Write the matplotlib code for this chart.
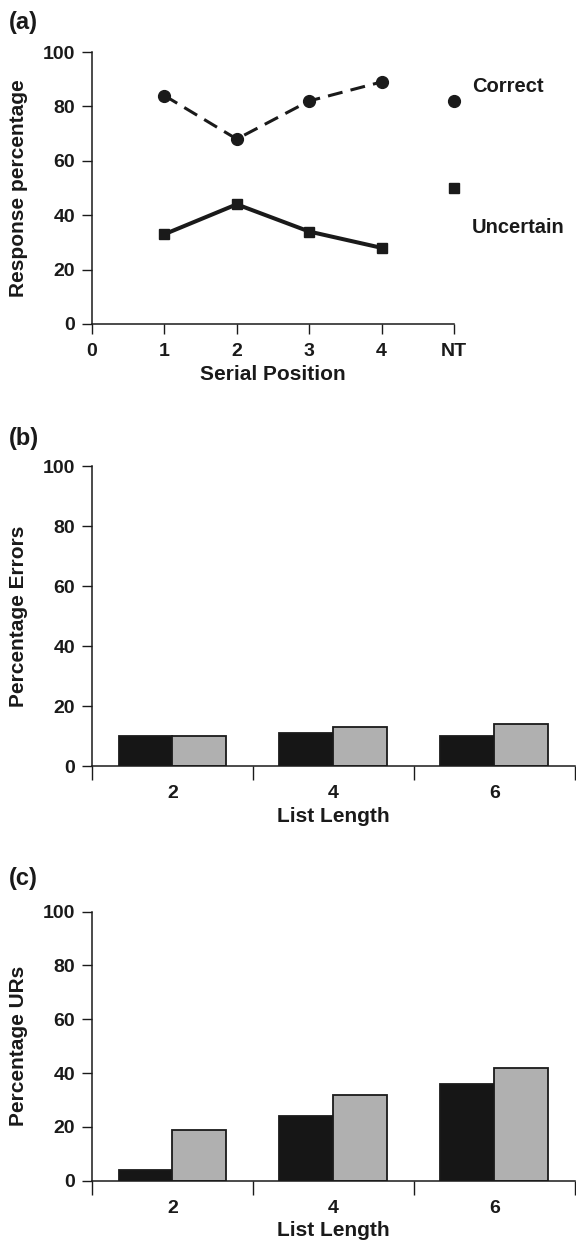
import matplotlib
matplotlib.use("Agg")
import matplotlib.pyplot as plt
import numpy as np

plt.rcParams['font.family'] = ['Liberation Sans', 'DejaVu Sans']
plt.rcParams['font.weight'] = 'bold'
TXT = '#1a1a1a'

# Panel (a): response percentages by serial position
positions = [1, 2, 3, 4]
correct = [84, 68, 82, 89]
uncertain = [33, 44, 34, 28]
nt_correct = 82
nt_uncertain = 50
xtick_labels_a = ['0', '1', '2', '3', '4', 'NT']

# Panels (b) and (c): list-length conditions
list_lengths = ['2', '4', '6']
errors_dark = [10, 11, 10]
errors_light = [10, 13, 14]
urs_dark = [4, 24, 36]
urs_light = [19, 32, 42]

TICK_FS = 14
LABEL_FS = 15
PANEL_FS = 17

fig = plt.figure(figsize=(5.76, 12.48), dpi=100)

def style_axes(ax, ylabel, xlabel):
    ax.spines['top'].set_visible(False)
    ax.spines['right'].set_visible(False)
    for s in ('left', 'bottom'):
        ax.spines[s].set_linewidth(1.1)
        ax.spines[s].set_color(TXT)
    ax.set_ylim(0, 100)
    ax.set_yticks([0, 20, 40, 60, 80, 100])
    ax.tick_params(axis='both', direction='out', length=7, width=1.0,
                   colors=TXT, labelsize=TICK_FS)
    ax.tick_params(axis='y', pad=5)
    for lab in ax.get_yticklabels() + ax.get_xticklabels():
        lab.set_fontweight('bold')
    ax.set_ylabel(ylabel, fontsize=LABEL_FS, fontweight='bold', color=TXT)
    ax.set_xlabel(xlabel, fontsize=LABEL_FS, fontweight='bold', color=TXT,
                  labelpad=3)

# ---- (a) ----
axa = fig.add_axes([0.1597, 0.7404, 0.788 - 0.1597, 0.9583 - 0.7404])
axa.plot(positions, correct, color=TXT, lw=2.2, ls=(0, (4.9, 2.7)),
         marker='o', ms=8.5, mfc=TXT, mec=TXT, clip_on=False)
axa.plot(positions, uncertain, color=TXT, lw=2.9, ls='-',
         marker='s', ms=6.5, mfc=TXT, mec=TXT, clip_on=False)
axa.plot([5], [nt_correct], marker='o', ms=8.5, color=TXT, ls='none', clip_on=False)
axa.plot([5], [nt_uncertain], marker='s', ms=6.5, color=TXT, ls='none', clip_on=False)
axa.set_xlim(0, 5)
axa.set_xticks(range(6))
axa.set_xticklabels(xtick_labels_a)
style_axes(axa, 'Response percentage', 'Serial Position')
axa.tick_params(axis='x', pad=7)
axa.yaxis.set_label_coords(-0.177, 0.5)
axa.text(5.25, 87.5, 'Correct', fontsize=14.5, fontweight='bold', color=TXT,
         ha='left', va='center', clip_on=False)
axa.text(5.25, 35.5, 'Uncertain', fontsize=14.5, fontweight='bold', color=TXT,
         ha='left', va='center', clip_on=False)
fig.text(0.016, 0.982, '(a)', fontsize=PANEL_FS, fontweight='bold', color=TXT,
         ha='left', va='center')

# ---- bar panels ----
def bar_panel(rect, dark, light, ylabel, label, label_y):
    ax = fig.add_axes(rect)
    x = np.arange(len(list_lengths))
    w = 0.335
    ax.bar(x - w / 2, dark, width=w, color='#161616', edgecolor=TXT, lw=1.3)
    ax.bar(x + w / 2, light, width=w, color='#b0b0b0', edgecolor=TXT, lw=1.3)
    ax.set_xlim(-0.5, len(list_lengths) - 0.5)
    ax.set_xticks(x)
    ax.set_xticklabels(list_lengths)
    ax.set_xticks(np.arange(len(list_lengths) + 1) - 0.5, minor=True)
    style_axes(ax, ylabel, 'List Length')
    ax.tick_params(axis='x', which='major', length=0, pad=14)
    ax.tick_params(axis='x', which='minor', length=10, width=1.0, color=TXT)
    ax.yaxis.set_label_coords(-0.1325, 0.5)
    fig.text(0.016, label_y, label, fontsize=PANEL_FS, fontweight='bold', color=TXT,
             ha='left', va='center')
    return ax

bar_panel([0.1597, 0.3862, 0.998 - 0.1597, 0.6266 - 0.3862],
          errors_dark, errors_light, 'Percentage Errors', '(b)', 0.649)
bar_panel([0.1597, 0.0539, 0.998 - 0.1597, 0.2695 - 0.0539],
          urs_dark, urs_light, 'Percentage URs', '(c)', 0.2957)

fig.savefig('out.png', dpi=100)
